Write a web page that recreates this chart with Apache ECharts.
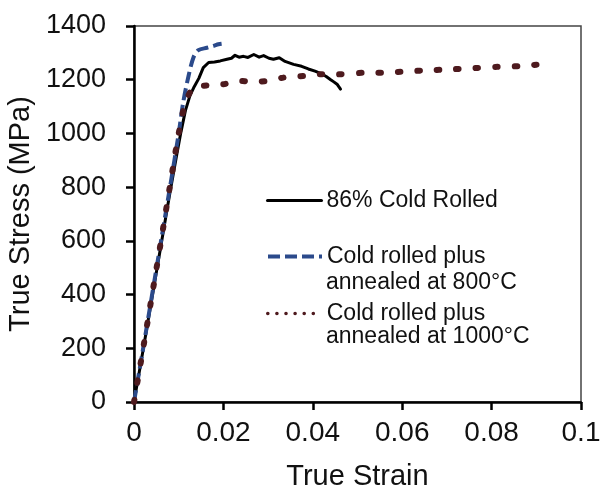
<!DOCTYPE html>
<html>
<head>
<meta charset="utf-8">
<script src="https://cdn.jsdelivr.net/npm/echarts@6/dist/echarts.min.js"></script>
<style>html,body{margin:0;padding:0;background:#fff}#c{width:601px;height:489px}</style>
</head>
<body>
<div id="c"></div>
<script>
// Tick labels
const xTicks = [0, 0.02, 0.04, 0.06, 0.08, 0.1];
const yTicks = [0, 200, 400, 600, 800, 1000, 1200, 1400];

// Series names
const seriesNames = ['86% Cold Rolled', 'Cold rolled plus annealed at 800°C', 'Cold rolled plus annealed at 1000°C'];

// 86% Cold Rolled
const coldStrain = [0, 0.001, 0.002, 0.004, 0.006, 0.008, 0.0095, 0.0105, 0.0115, 0.0125, 0.0135, 0.0145, 0.0155, 0.0167, 0.018, 0.0193, 0.0208, 0.0218, 0.0226, 0.0235, 0.0245, 0.0255, 0.0268, 0.028, 0.029, 0.0302, 0.0312, 0.0325, 0.0338, 0.0357, 0.0375, 0.039, 0.0405, 0.0417, 0.043, 0.0440, 0.0447, 0.0455, 0.0462];
const coldStress = [0, 95, 190, 385, 580, 775, 915, 1005, 1085, 1140, 1175, 1205, 1245, 1264, 1266, 1270, 1276, 1280, 1291, 1284, 1287, 1283, 1294, 1284, 1290, 1280, 1276, 1282, 1268, 1257, 1250, 1240, 1232, 1224, 1212, 1200, 1192, 1182, 1165];

// Cold rolled plus annealed at 800°C
const a800Strain = [0, 0.002, 0.004, 0.006, 0.008, 0.010, 0.011, 0.0122, 0.0133, 0.0144, 0.0163, 0.0178, 0.0189, 0.0196];
const a800Stress = [0, 195, 395, 595, 795, 1000, 1115, 1214, 1283, 1310, 1319, 1326, 1332, 1334];

// Cold rolled plus annealed at 1000°C
const a1000Strain = [0, 0.002, 0.004, 0.006, 0.008, 0.010, 0.0114, 0.0129, 0.014, 0.0163, 0.018, 0.020, 0.023, 0.0255, 0.0275, 0.030, 0.0335, 0.036, 0.038, 0.0417, 0.0454, 0.052, 0.0559, 0.060, 0.0656, 0.070, 0.0761, 0.0813, 0.0873, 0.090, 0.0915, 0.0928];
const a1000Stress = [0, 195, 395, 595, 800, 1000, 1109, 1164, 1174, 1179, 1182, 1183, 1196, 1194, 1193, 1196, 1208, 1211, 1214, 1220, 1220, 1226, 1226, 1230, 1235, 1238, 1243, 1248, 1251, 1256, 1257, 1249];

const zip = (a, b) => a.map((v, i) => [v, b[i]]);

const FONT = "'Liberation Sans', Arial, sans-serif";
const chart = echarts.init(document.getElementById('c'), null, {renderer: 'canvas'});

const legendBase = {
  orient: 'vertical', padding: 0, itemWidth: 54, itemHeight: 14,
  selectedMode: false,
  textStyle: {fontFamily: FONT, fontSize: 23, color: '#111'},
  formatter: n => n.replace(' annealed', '\nannealed').split('\n')[0]
};

chart.setOption({
  animation: false,
  backgroundColor: '#fff',
  grid: {left: 134, right: 20, top: 26, bottom: 87, show: true, borderColor: '#444', borderWidth: 1.5,
    containLabel: false, outerBoundsMode: 'none'},
  xAxis: {
    type: 'value', min: xTicks[0], max: xTicks[xTicks.length - 1], interval: 0.02,
    name: 'True Strain', nameLocation: 'middle', nameGap: 60,
    nameTextStyle: {fontFamily: FONT, fontSize: 29, color: '#111'},
    axisLine: {show: true, onZero: false, lineStyle: {color: '#000', width: 2.5}},
    axisTick: {show: true, inside: false, length: 8, lineStyle: {color: '#000', width: 2.5}},
    axisLabel: {fontFamily: FONT, fontSize: 28, color: '#111', margin: 17,
      formatter: v => String(parseFloat(v.toFixed(4)))},
    splitLine: {show: false}
  },
  yAxis: {
    type: 'value', min: yTicks[0], max: yTicks[yTicks.length - 1], interval: 200,
    name: 'True Stress (MPa)', nameLocation: 'middle', nameGap: 95,
    nameTextStyle: {fontFamily: FONT, fontSize: 29, color: '#111'},
    axisLine: {show: true, onZero: false, lineStyle: {color: '#000', width: 2.5}},
    axisTick: {show: true, inside: false, length: 8, lineStyle: {color: '#000', width: 2.5}},
    axisLabel: {fontFamily: FONT, fontSize: 27, color: '#111', margin: 28, formatter: v => String(v)},
    splitLine: {show: false}
  },
  legend: [
    Object.assign({}, legendBase, {left: 266, top: 189, data: [{name: seriesNames[0], icon: 'inherit', itemStyle: {opacity: 0}, lineStyle: {color: '#000', width: 3, type: 'solid'}}]}),
    Object.assign({}, legendBase, {left: 266, top: 245, data: [{name: seriesNames[1], icon: 'inherit', itemStyle: {opacity: 0}, lineStyle: {color: '#2b4a8b', width: 4, type: [12, 5]}}]}),
    Object.assign({}, legendBase, {left: 266, top: 302, data: [{name: seriesNames[2], icon: 'inherit', itemStyle: {opacity: 0}, lineStyle: {color: '#4e1a1e', width: 3.5, type: [0.1, 9], cap: 'round'}}]})
  ],
  graphic: [
    {type: 'text', left: 326, top: 271, silent: true, style: {text: 'annealed at 800°C', font: '23px ' + FONT, fill: '#111'}},
    {type: 'text', left: 326, top: 325, silent: true, style: {text: 'annealed at 1000°C', font: '23px ' + FONT, fill: '#111'}}
  ],
  series: [
    {name: seriesNames[0], type: 'line', data: zip(coldStrain, coldStress), showSymbol: false, symbol: 'none', smooth: false,
      lineStyle: {color: '#000', width: 3, cap: 'round', join: 'round'}, itemStyle: {color: '#000'}},
    {name: seriesNames[1], type: 'line', data: zip(a800Strain, a800Stress), showSymbol: false, symbol: 'none', smooth: 0.3,
      lineStyle: {color: '#2b4a8b', width: 4, type: [12, 5]}, itemStyle: {color: '#2b4a8b'}},
    {name: seriesNames[2], type: 'line', data: zip(a1000Strain, a1000Stress), showSymbol: false, symbol: 'none', smooth: 0.3,
      lineStyle: {color: '#4e1a1e', width: 6, type: [2.5, 17], cap: 'round'}, itemStyle: {color: '#4e1a1e'}}
  ]
});
</script>
</body>
</html>
